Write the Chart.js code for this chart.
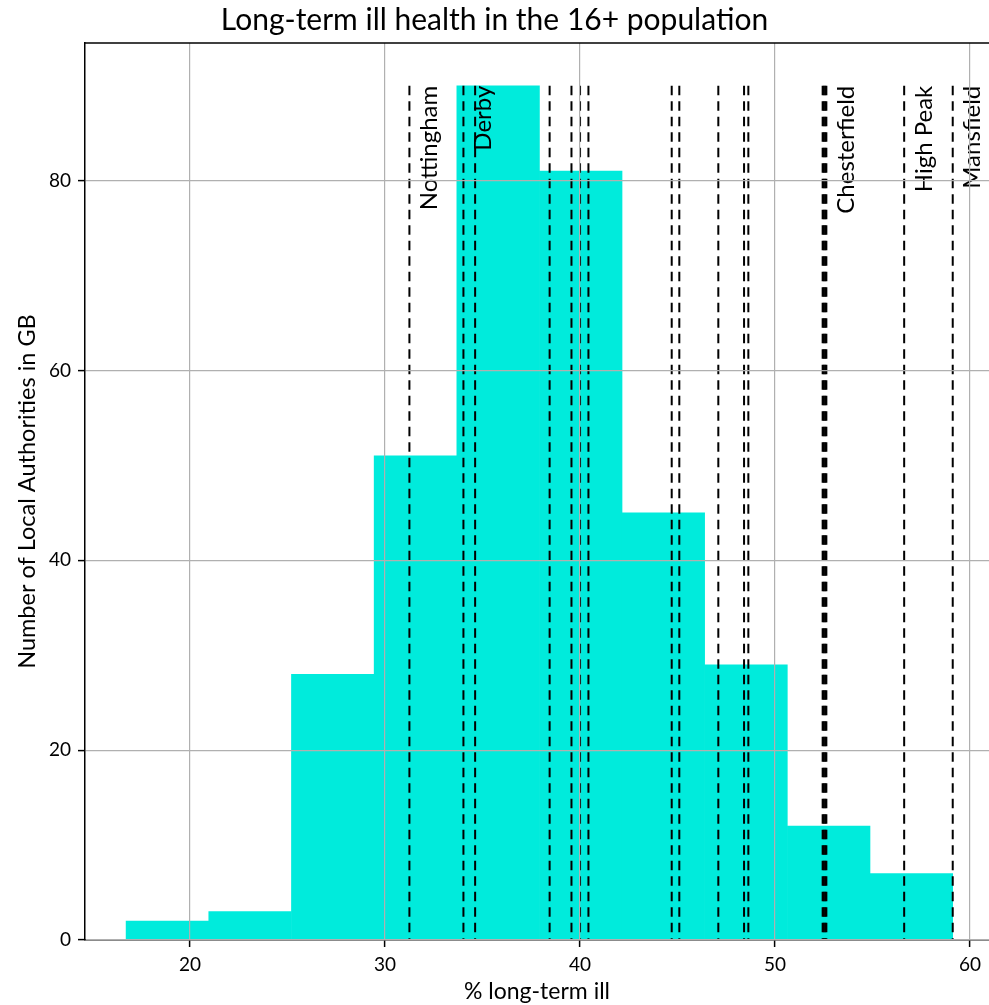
<!DOCTYPE html>
<html>
<head>
<meta charset="utf-8">
<script src="https://cdn.jsdelivr.net/npm/chart.js@4.4.1/dist/chart.umd.min.js"></script>
<style>
  html, body { margin: 0; padding: 0; background: #fff; overflow: hidden; }
  #wrap { width: 989px; height: 1005px; }
</style>
</head>
<body>
<div id="wrap"><canvas id="histChart"></canvas></div>
<script>
// histogram: % long-term ill in the 16+ population, GB local authorities
const binEdges = [16.72, 20.96, 25.20, 29.44, 33.68, 37.92, 42.15, 46.39, 50.63, 54.87, 59.11];
const binCounts = [2, 3, 28, 51, 90, 81, 45, 29, 12, 7];

// dashed marker lines for selected authorities
const markerValues = [31.25, 34.02, 34.62, 38.44, 39.56, 40.00, 40.43, 44.70, 45.09, 47.09,
                      48.41, 48.63, 52.44, 52.50, 52.57, 52.63, 56.62, 59.11];
const markerNames = ['Nottingham', 'Derby', 'Chesterfield', 'High Peak', 'Mansfield'];
const markerNameValues = [31.25, 34.02, 52.63, 56.62, 59.11];
const markerTop = 90;

const xTicks = [20, 30, 40, 50, 60];
const yTicks = [0, 20, 40, 60, 80];

const FONT = 'Lato, "DejaVu Sans", sans-serif';
Chart.defaults.font.family = FONT;
Chart.defaults.color = '#000';


/********** PLUGINS **********/

// rotated names next to the marker lines
const markerLabels = {
    id: 'markerLabels',
    afterDatasetsDraw(chart) {
        const { ctx, scales: { x, y } } = chart;
        ctx.save();
        ctx.font = '24px ' + FONT;
        ctx.fillStyle = '#000';
        ctx.textAlign = 'right';
        ctx.textBaseline = 'top';
        markerNames.forEach((name, i) => {
            ctx.save();
            ctx.translate(x.getPixelForValue(markerNameValues[i] + 0.4), y.getPixelForValue(markerTop));
            ctx.rotate(-Math.PI / 2);
            ctx.fillText(name, 0, 0);
            ctx.restore();
        });
        ctx.restore();
    }
};

// top spine (the right spine sits just past the picture edge)
const frame = {
    id: 'frame',
    afterDraw(chart) {
        const { ctx, chartArea: a } = chart;
        ctx.save();
        ctx.strokeStyle = '#000';
        ctx.lineWidth = 1.5;
        ctx.beginPath();
        ctx.moveTo(a.left, a.top);
        ctx.lineTo(a.right + 2, a.top);
        ctx.stroke();
        ctx.restore();
    }
};


/********** CHART **********/

const barData = binCounts.map((c, i) => ({ x: (binEdges[i] + binEdges[i + 1]) / 2, y: c }));

const lineSets = markerValues.map(v => ({
    type: 'line',
    data: [{ x: v, y: markerTop }, { x: v, y: 0 }],
    borderColor: '#000',
    borderWidth: 2,
    borderDash: [9.5, 6],
    pointRadius: 0,
    fill: false,
    order: 0
}));

const gridOpts = { color: '#b0b0b0', lineWidth: 1.2, tickColor: '#000', tickLength: 7, tickWidth: 1.5, offset: false, z: 1 };

new Chart(document.getElementById('histChart'), {
    type: 'bar',
    data: {
        datasets: [{
            type: 'bar',
            data: barData,
            backgroundColor: '#00ebdc',
            borderWidth: 0,
            barPercentage: 1,
            categoryPercentage: 1,
            order: 1
        }, ...lineSets]
    },
    options: {
        responsive: true,
        maintainAspectRatio: false,
        devicePixelRatio: 1,
        animation: false,
        layout: { padding: 0 },
        plugins: {
            legend: { display: false },
            tooltip: { enabled: false },
            title: {
                display: true,
                text: 'Long-term ill health in the 16+ population',
                color: '#000',
                font: { size: 30, weight: 'normal' },
                padding: { top: 2, bottom: 5 }
            }
        },
        scales: {
            x: {
                type: 'linear',
                min: 14.615,
                max: 60.97,
                offset: false,
                afterBuildTicks: s => { s.ticks = xTicks.map(v => ({ value: v })); },
                afterFit: s => { s.height = 65; },
                grid: gridOpts,
                border: { color: '#000', width: 1.5, z: 1 },
                ticks: { font: { size: 19 }, color: '#000', padding: 6, maxRotation: 0 },
                title: { display: true, text: '% long-term ill', font: { size: 23 }, padding: 0 }
            },
            y: {
                type: 'linear',
                min: 0,
                max: 94.5,
                afterBuildTicks: s => { s.ticks = yTicks.map(v => ({ value: v })); },
                afterFit: s => { s.width = 85; },
                grid: gridOpts,
                border: { color: '#000', width: 1.5, z: 1 },
                ticks: { font: { size: 19 }, color: '#000', padding: 7 },
                title: { display: true, text: 'Number of Local Authorities in GB', font: { size: 23.5 }, padding: { top: 13, bottom: 0 } }
            }
        }
    },
    plugins: [markerLabels, frame]
});
</script>
</body>
</html>
